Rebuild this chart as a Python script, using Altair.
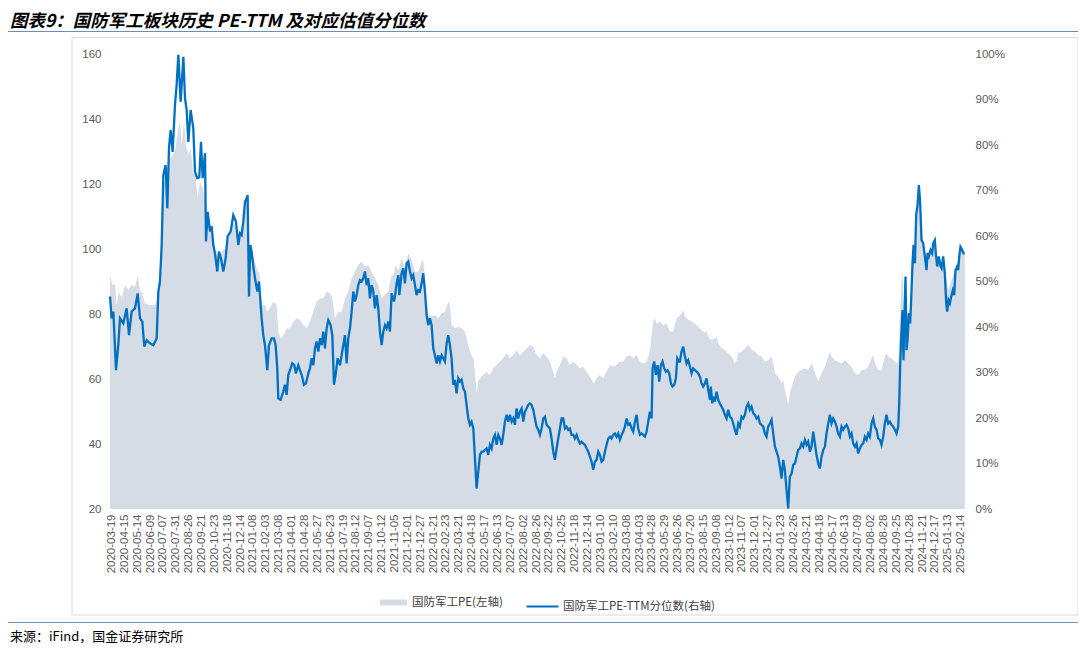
import altair as alt
import pandas as pd

# ---------------- data ----------------
# x = trading-day index since the first data point (labels every 18 trading days)
DATE_LABELS = [
    "2020-03-19", "2020-04-15", "2020-05-14", "2020-06-09", "2020-07-07", "2020-07-31",
    "2020-08-26", "2020-09-21", "2020-10-23", "2020-11-18", "2020-12-14",
    "2021-01-08", "2021-02-03", "2021-03-08", "2021-04-01", "2021-04-28", "2021-05-27",
    "2021-06-23", "2021-07-19", "2021-08-12", "2021-09-07", "2021-10-12", "2021-11-05",
    "2021-12-01", "2021-12-27",
    "2022-01-21", "2022-02-23", "2022-03-21", "2022-04-18", "2022-05-17", "2022-06-13",
    "2022-07-07", "2022-08-02", "2022-08-26", "2022-09-22", "2022-10-25", "2022-11-18",
    "2022-12-14",
    "2023-01-10", "2023-02-10", "2023-03-08", "2023-04-03", "2023-04-28", "2023-05-29",
    "2023-06-26", "2023-07-20", "2023-08-15", "2023-09-08", "2023-10-12", "2023-11-07",
    "2023-12-01", "2023-12-27",
    "2024-01-23", "2024-02-26", "2024-03-21", "2024-04-18", "2024-05-17", "2024-06-13",
    "2024-07-09", "2024-08-02", "2024-08-28", "2024-09-25", "2024-10-28", "2024-11-21",
    "2024-12-17",
    "2025-01-13", "2025-02-14",
]

# 国防军工PE (left axis): (day, PE)
PE_POINTS = [
    (0.0, 92.0), (3.3, 88.9), (7.0, 89.4), (9.3, 82.8), (12.6, 86.9), (16.3, 84.8),
    (21.0, 88.9), (25.6, 87.4), (30.3, 88.9), (35.0, 88.4), (38.7, 92.0), (42.0, 86.9),
    (45.2, 86.4), (48.9, 83.3), (55.9, 82.8), (62.9, 82.8), (66.7, 84.8), (69.0, 91.0),
    (72.3, 103.3), (74.6, 119.7), (77.8, 121.8), (80.6, 118.7), (83.9, 127.9), (88.6, 128.9),
    (92.3, 132.0), (95.6, 137.1), (97.9, 139.2), (100.2, 132.0), (103.5, 139.2), (106.3, 132.0),
    (109.6, 128.9), (112.8, 131.0), (116.5, 123.3), (119.8, 122.8), (122.6, 115.6), (125.9, 120.7),
    (129.6, 118.7), (132.9, 115.6), (135.2, 109.4), (139.9, 108.4), (144.5, 101.2), (149.2, 98.2),
    (152.4, 97.1), (156.2, 99.2), (160.8, 100.2), (165.5, 102.2), (170.2, 108.4), (174.8, 107.4),
    (179.5, 104.3), (184.1, 106.4), (188.8, 113.5), (192.5, 115.6), (194.4, 97.1), (198.1, 99.2),
    (202.8, 96.1), (206.5, 93.0), (208.8, 93.0), (212.1, 82.8), (216.8, 82.8), (220.0, 80.7),
    (223.8, 81.8), (228.4, 83.8), (233.1, 82.8), (235.4, 74.6), (238.7, 72.5), (242.4, 73.5),
    (247.1, 75.6), (251.7, 75.6), (256.4, 77.6), (261.1, 78.7), (265.7, 78.2), (270.4, 76.6),
    (275.1, 75.6), (279.7, 77.6), (284.4, 80.7), (289.0, 83.8), (293.7, 84.8), (298.4, 84.8),
    (303.0, 86.9), (307.7, 86.4), (311.0, 84.8), (314.7, 78.7), (319.3, 80.7), (324.0, 80.7),
    (328.7, 84.8), (333.3, 86.9), (338.0, 91.0), (342.7, 93.0), (347.3, 95.1), (352.0, 96.1),
    (356.6, 94.6), (361.3, 95.1), (366.0, 93.0), (370.6, 91.0), (375.3, 88.9), (380.0, 84.8),
    (384.6, 85.9), (389.3, 86.9), (393.9, 92.0), (397.2, 92.0),
    (398.6, 95.1), (403.3, 93.5), (407.9, 97.1), (412.6, 94.1), (417.2, 98.7), (421.9, 96.6),
    (426.6, 93.0), (431.2, 93.0), (435.9, 96.1), (438.2, 96.6), (440.6, 91.0), (442.9, 83.8),
    (445.2, 79.7), (449.9, 79.2), (454.5, 79.7), (459.2, 78.7), (463.9, 80.2), (468.5, 80.7),
    (473.2, 83.8), (475.5, 82.8), (477.8, 76.6), (482.5, 75.6), (487.2, 76.1), (491.8, 75.6),
    (496.5, 74.6), (498.8, 72.5), (503.5, 68.4), (508.2, 66.4), (510.5, 62.2), (512.8, 55.6),
    (515.1, 59.2), (517.5, 60.2), (522.1, 61.2), (526.8, 62.2), (531.5, 61.2), (536.1, 63.3),
    (540.8, 64.3), (545.4, 65.3), (550.1, 66.4), (554.8, 67.9), (559.4, 66.4), (564.1, 67.4),
    (568.8, 68.9), (573.4, 67.4), (578.1, 68.4), (582.7, 69.4), (587.4, 70.5), (592.1, 69.9),
    (596.7, 67.4), (601.4, 66.4), (606.1, 67.9), (610.7, 66.9), (615.4, 65.3), (620.0, 62.2),
    (622.4, 60.2), (624.7, 62.2), (629.4, 64.3), (634.0, 66.9), (638.7, 66.4), (643.3, 64.3),
    (648.0, 65.3), (652.7, 64.3), (657.3, 63.3), (662.0, 63.8), (666.7, 62.2), (671.3, 60.7),
    (676.0, 58.7), (678.3, 59.2), (680.6, 60.2), (685.3, 61.2), (690.0, 60.2), (694.6, 62.2),
    (699.3, 64.3), (704.0, 63.8), (708.6, 64.3), (713.3, 65.3), (717.9, 65.3), (722.6, 66.9),
    (727.3, 67.4), (731.9, 66.4), (736.6, 67.4), (741.3, 65.3), (745.9, 64.8), (750.6, 65.3),
    (755.2, 68.4), (757.6, 73.5), (759.9, 77.6), (762.2, 78.7), (764.6, 77.1), (769.2, 77.6),
    (773.9, 76.6), (778.6, 77.1), (783.2, 74.6), (787.9, 74.6), (792.5, 78.7), (795.8, 79.2),
    (799.5, 80.2), (801.9, 81.2), (804.2, 79.2), (808.8, 78.2), (813.5, 77.6), (818.2, 77.1),
    (822.8, 76.1), (827.5, 75.1), (832.2, 74.1), (834.5, 75.1), (836.8, 73.0), (841.5, 72.0),
    (846.1, 72.5), (848.5, 73.0), (850.8, 71.0), (855.5, 69.4), (860.1, 68.9), (864.8, 67.9),
    (869.5, 66.9), (874.1, 64.8), (876.4, 65.8), (878.8, 67.9), (883.4, 68.4), (888.1, 69.4),
    (892.8, 70.5), (895.1, 69.9), (897.4, 68.9), (902.1, 68.4), (906.8, 67.4), (911.4, 66.9),
    (916.1, 65.3), (920.7, 65.8), (925.4, 66.9), (927.7, 64.8), (930.1, 61.8), (934.7, 60.7),
    (939.4, 58.7), (941.7, 59.7), (944.0, 56.6), (946.4, 54.6), (948.7, 52.0), (951.0, 55.6),
    (953.4, 57.6), (958.0, 60.7), (962.7, 62.2), (967.4, 62.8), (972.0, 63.3), (976.7, 62.8),
    (981.3, 64.8), (983.7, 63.8), (986.0, 61.8), (988.3, 60.7), (990.7, 59.2), (995.3, 61.8),
    (1000.0, 63.8), (1004.7, 66.9), (1007.0, 68.4), (1009.3, 66.9), (1014.0, 65.8), (1018.7, 65.3),
    (1023.3, 64.8), (1028.0, 65.8), (1032.6, 64.8), (1037.3, 63.8), (1042.0, 61.8), (1046.6, 61.2),
    (1051.3, 62.8), (1055.9, 62.8), (1060.6, 63.8), (1065.3, 66.4), (1067.6, 67.4), (1069.9, 64.8),
    (1074.6, 62.8), (1079.2, 62.8), (1083.9, 66.9), (1086.2, 67.9), (1088.6, 66.9), (1093.2, 66.4),
    (1097.9, 65.3), (1102.6, 64.8), (1104.9, 77.1), (1107.2, 90.5), (1108.6, 93.5), (1110.0, 81.2),
    (1111.9, 91.5), (1114.2, 78.2), (1116.5, 81.2), (1118.9, 79.2), (1121.2, 90.5), (1123.5, 99.7),
    (1125.9, 97.6), (1128.2, 109.9), (1130.5, 114.1), (1132.9, 112.0), (1135.2, 101.8), (1139.8, 98.7),
    (1144.5, 98.7), (1149.2, 99.7), (1153.8, 100.7), (1158.5, 96.6), (1163.2, 95.6), (1165.5, 98.7),
    (1167.8, 93.5), (1170.2, 90.5), (1172.5, 87.4), (1177.1, 90.5), (1181.8, 93.5), (1186.5, 96.6),
    (1191.1, 99.7), (1195.8, 98.7),
]

# 国防军工PE-TTM分位数 (right axis, %): (day, percentile)
PCT_POINTS = [
    (0.0, 46.7), (2.3, 41.9), (4.7, 43.4), (8.4, 30.5), (11.6, 36.0), (14.0, 41.9),
    (18.6, 40.8), (23.3, 44.1), (26.6, 38.2), (30.3, 43.4), (35.0, 44.1), (38.7, 47.4),
    (42.0, 41.9), (45.2, 41.2), (48.0, 35.7), (51.3, 37.1), (55.9, 36.4), (60.6, 36.0),
    (65.3, 37.5), (67.6, 47.8), (69.9, 50.0), (72.3, 58.0), (74.6, 73.4), (77.8, 75.6),
    (80.2, 66.1), (82.5, 79.3), (84.8, 83.3), (87.6, 78.5), (90.9, 88.8), (93.2, 93.2),
    (95.6, 99.8), (98.8, 89.5), (102.6, 99.4), (104.9, 90.3), (107.2, 87.7), (109.6, 80.7),
    (112.8, 87.7), (116.5, 83.7), (118.9, 74.1), (122.1, 72.7), (124.9, 72.9), (127.3, 80.7),
    (129.6, 72.7), (132.9, 78.2), (134.3, 58.8), (136.6, 65.3), (139.9, 61.0), (142.2, 62.1),
    (144.5, 58.0), (146.8, 56.2), (150.1, 52.2), (152.4, 56.6), (155.2, 55.1), (158.5, 52.2),
    (161.8, 55.1), (164.6, 59.9), (168.8, 61.0), (172.5, 64.6), (176.2, 63.2), (179.5, 58.0),
    (181.8, 60.6), (184.1, 60.2), (186.5, 63.2), (188.8, 67.5), (191.1, 68.3), (192.5, 69.0),
    (194.4, 46.7), (196.3, 58.0), (198.1, 56.6), (200.5, 53.3), (202.8, 50.7), (206.1, 47.8),
    (208.4, 50.0), (212.1, 41.9), (214.4, 38.2), (216.8, 36.0), (220.0, 30.5), (222.4, 36.0),
    (226.1, 37.5), (229.4, 37.5), (231.7, 36.0), (234.0, 30.9), (235.4, 24.3), (238.7, 24.0),
    (242.4, 25.8), (244.7, 27.3), (247.1, 25.1), (249.4, 29.5), (252.7, 30.9), (255.0, 32.0),
    (257.8, 31.6), (260.1, 29.8), (263.4, 31.6), (265.7, 30.5), (268.1, 29.5), (271.3, 27.3),
    (274.1, 27.6), (277.4, 29.8), (279.7, 30.9), (282.0, 33.1), (284.4, 31.6), (286.7, 35.3),
    (289.0, 36.8), (291.4, 34.6), (293.7, 37.5), (296.0, 36.0), (298.4, 39.0), (300.7, 35.3),
    (303.0, 39.7), (305.4, 41.5), (308.6, 40.4), (311.0, 38.2), (313.3, 27.3), (315.6, 29.5),
    (318.4, 33.1), (321.7, 31.6), (324.0, 33.8), (326.3, 36.0), (328.7, 38.2), (331.0, 32.0),
    (333.3, 37.5), (335.7, 39.7), (338.0, 43.4), (340.3, 47.8), (342.7, 45.6), (345.0, 47.0),
    (347.3, 49.2), (349.6, 50.3), (352.0, 50.0), (354.3, 50.7), (356.6, 52.2), (359.0, 49.2),
    (361.3, 50.7), (363.6, 46.3), (366.0, 49.2), (368.3, 47.8), (370.6, 44.1), (373.0, 47.0),
    (375.3, 44.1), (377.6, 39.0), (380.0, 36.0), (382.3, 39.0), (384.6, 40.4), (386.9, 39.7),
    (389.3, 41.2), (391.6, 39.0), (393.9, 47.4), (397.2, 45.6),
    (398.6, 46.7), (400.9, 49.6), (403.3, 51.4), (404.7, 47.0), (407.9, 51.8), (410.2, 52.9),
    (412.6, 49.6), (414.9, 54.0), (417.2, 54.4), (419.6, 52.2), (421.9, 50.7), (424.2, 51.4),
    (426.6, 49.2), (428.9, 47.0), (431.2, 48.1), (433.6, 47.8), (435.9, 49.6), (438.2, 51.8),
    (440.6, 47.8), (442.9, 42.6), (445.2, 40.4), (447.5, 41.9), (449.9, 40.4), (452.2, 35.3),
    (454.5, 33.8), (456.9, 32.0), (459.2, 33.8), (461.5, 32.4), (463.9, 33.8), (466.2, 33.1),
    (468.5, 32.4), (470.9, 36.4), (473.2, 38.2), (475.5, 36.0), (477.8, 33.1), (480.2, 27.3),
    (482.5, 28.4), (484.8, 25.4), (487.2, 28.7), (489.5, 28.0), (491.8, 28.4), (494.2, 26.5),
    (496.5, 25.8), (498.8, 22.9), (501.2, 19.9), (503.5, 18.5), (505.8, 19.2), (508.2, 17.7),
    (510.5, 11.1), (512.8, 4.5), (515.1, 8.2), (517.5, 11.9), (519.8, 12.6), (522.1, 12.6),
    (526.8, 13.3), (529.1, 11.9), (531.5, 14.1), (533.8, 13.3), (536.1, 15.5), (538.5, 16.3),
    (540.8, 14.1), (543.1, 16.3), (545.4, 15.5), (547.8, 14.1), (550.1, 16.3), (552.4, 19.2),
    (554.8, 20.7), (557.1, 19.2), (559.4, 20.7), (561.8, 19.2), (564.1, 19.9), (566.4, 18.5),
    (568.8, 22.1), (571.1, 19.9), (573.4, 21.4), (575.8, 22.1), (578.1, 19.2), (580.4, 21.4),
    (582.7, 22.1), (585.1, 22.9), (587.4, 23.2), (589.7, 22.9), (592.1, 21.8), (594.4, 19.9),
    (596.7, 18.1), (599.1, 17.4), (601.4, 16.3), (603.7, 17.7), (606.1, 19.9), (608.4, 20.3),
    (610.7, 18.5), (613.0, 18.1), (615.4, 17.7), (617.7, 15.5), (620.0, 12.6), (622.4, 10.8),
    (624.7, 13.3), (627.0, 15.5), (629.4, 17.7), (631.7, 19.9), (634.0, 19.9), (636.4, 17.7),
    (638.7, 18.1), (641.0, 17.4), (643.3, 17.7), (645.7, 16.3), (648.0, 16.3), (650.3, 15.5),
    (652.7, 16.3), (655.0, 15.2), (657.3, 14.4), (659.7, 14.8), (662.0, 14.4), (664.3, 14.1),
    (666.7, 13.3), (669.0, 12.6), (671.3, 11.5), (673.7, 10.4), (676.0, 8.6), (678.3, 10.4),
    (680.6, 10.8), (683.0, 12.6), (685.3, 11.9), (687.6, 10.4), (690.0, 10.8), (692.3, 12.6),
    (694.6, 14.1), (697.0, 15.5), (699.3, 15.9), (701.6, 15.5), (704.0, 16.3), (706.3, 16.6),
    (708.6, 15.9), (710.9, 16.6), (713.3, 15.2), (715.6, 16.3), (717.9, 17.0), (720.3, 18.1),
    (722.6, 19.9), (724.9, 18.5), (727.3, 18.8), (729.6, 17.7), (731.9, 17.0), (734.3, 19.2),
    (736.6, 20.7), (738.9, 17.7), (741.3, 16.3), (743.6, 16.6), (745.9, 16.3), (748.2, 15.9),
    (750.6, 17.0), (752.9, 19.2), (755.2, 21.4), (757.6, 19.9), (759.0, 30.9), (761.3, 32.4),
    (763.6, 29.5), (766.0, 31.6), (768.3, 28.0), (770.6, 31.6), (772.9, 32.4), (775.3, 30.9),
    (777.6, 30.2), (779.9, 30.5), (782.3, 29.8), (784.6, 27.6), (786.9, 26.9), (789.3, 27.3),
    (791.6, 28.7), (793.5, 33.1), (795.8, 32.4),
    (797.2, 32.4), (799.5, 34.6), (801.9, 35.7), (804.2, 33.5), (806.5, 32.0), (808.8, 32.7),
    (811.2, 31.3), (813.5, 29.8), (815.8, 30.9), (818.2, 30.5), (820.5, 30.2), (822.8, 29.8),
    (825.2, 29.1), (827.5, 27.6), (829.8, 26.9), (832.2, 27.6), (834.5, 28.7), (836.8, 26.2),
    (839.2, 24.0), (840.5, 26.9), (842.4, 23.2), (843.8, 24.7), (846.1, 23.6), (848.5, 25.8),
    (850.8, 24.0), (853.1, 23.2), (855.5, 22.5), (857.8, 21.8), (860.1, 20.7), (862.5, 19.9),
    (864.8, 21.8), (867.1, 20.3), (869.5, 19.9), (871.8, 18.8), (874.1, 17.4), (876.4, 16.3),
    (878.8, 18.8), (881.1, 18.1), (883.4, 20.3), (885.8, 19.9), (888.1, 20.7), (890.4, 22.5),
    (892.8, 23.2), (895.1, 21.8), (897.4, 22.5), (899.8, 21.0), (902.1, 20.7), (904.4, 19.9),
    (906.8, 20.3), (909.1, 18.8), (911.4, 18.5), (913.7, 18.1), (916.1, 16.6), (918.4, 15.9),
    (920.7, 18.1), (923.1, 18.8), (925.4, 19.6), (927.7, 16.6), (930.1, 13.7), (932.4, 12.6),
    (934.7, 11.5), (937.1, 9.3), (939.4, 6.7), (941.7, 10.8), (944.0, 8.6), (946.4, 4.2),
    (948.7, 0.1), (951.0, 7.1), (953.4, 7.8), (955.7, 9.7), (958.0, 10.0), (960.4, 11.5),
    (962.7, 13.0), (965.0, 13.3), (967.4, 14.4), (969.7, 13.7), (972.0, 15.2), (974.4, 14.1),
    (976.7, 14.8), (979.0, 12.6), (981.3, 13.7), (983.7, 17.0), (986.0, 14.4), (988.3, 11.9),
    (990.7, 10.0), (993.0, 8.9), (995.3, 11.5), (997.7, 13.0), (1000.0, 13.7), (1002.3, 16.6),
    (1004.7, 18.8), (1007.0, 20.7), (1009.3, 18.8), (1011.7, 19.9), (1014.0, 19.2), (1016.3, 18.1),
    (1018.7, 16.6), (1021.0, 15.9), (1023.3, 18.1), (1025.6, 17.4), (1028.0, 18.1), (1030.3, 18.5),
    (1032.6, 17.7), (1035.0, 15.9), (1037.3, 16.6), (1039.6, 14.4), (1042.0, 13.7), (1044.3, 14.4),
    (1046.6, 12.2), (1049.0, 13.3), (1051.3, 14.1), (1053.6, 14.4), (1055.9, 15.9), (1058.3, 15.2),
    (1060.6, 16.6), (1062.9, 15.9), (1065.3, 18.8), (1067.6, 19.9), (1069.9, 18.1), (1072.3, 17.4),
    (1074.6, 15.5), (1076.9, 15.2), (1079.2, 14.1), (1081.6, 15.9), (1083.9, 18.8), (1086.2, 20.7),
    (1088.6, 18.8), (1090.9, 19.2), (1093.2, 18.5), (1095.6, 18.1), (1097.9, 17.4), (1100.2, 16.6),
    (1102.6, 18.1), (1104.0, 23.2), (1105.4, 32.0), (1107.2, 39.3), (1108.6, 43.7), (1110.0, 32.7),
    (1111.4, 43.0), (1112.8, 51.1), (1114.2, 34.9), (1115.6, 37.1), (1117.5, 43.0), (1119.3, 40.8),
    (1121.2, 48.1), (1122.6, 54.0), (1124.0, 58.0), (1125.9, 54.0), (1127.7, 64.6), (1129.6, 66.8),
    (1131.5, 71.2), (1133.3, 67.2), (1135.2, 59.1), (1137.5, 58.4), (1139.8, 55.5), (1142.2, 52.5),
    (1143.6, 56.2), (1145.4, 55.5), (1147.8, 56.9), (1150.1, 56.2), (1151.5, 58.4), (1153.8, 59.1),
    (1155.2, 56.2), (1157.1, 53.3), (1159.4, 55.5), (1161.8, 53.3), (1163.2, 52.9), (1165.5, 55.5),
    (1167.8, 51.8), (1169.7, 45.2), (1171.1, 43.4), (1172.9, 45.9), (1174.8, 45.2), (1176.7, 46.7),
    (1179.0, 48.1), (1180.9, 47.0), (1182.7, 52.5), (1185.1, 53.3), (1186.5, 52.5), (1187.9, 55.5),
    (1189.7, 57.6), (1192.1, 56.9), (1193.9, 56.2), (1195.8, 56.2),
]

SERIES_PE = "国防军工PE(左轴)"
SERIES_PCT = "国防军工PE-TTM分位数(右轴)"
TITLE = "图表9：国防军工板块历史 PE-TTM 及对应估值分位数"
SOURCE = "来源：iFind，国金证券研究所"
LEFT_TICKS = [20, 40, 60, 80, 100, 120, 140, 160]
RIGHT_TICKS = [0, 10, 20, 30, 40, 50, 60, 70, 80, 90, 100]

# ---------------- layout ----------------
W, H = 855, 455
PAD = {"left": 102, "top": 46, "right": 113, "bottom": 136}
LABEL_STEP = 18
LABEL_START = 2

pe_df = pd.DataFrame(PE_POINTS, columns=["day", "pe"])
pe_df["s"] = SERIES_PE
pct_df = pd.DataFrame(PCT_POINTS, columns=["day", "pct"])
pct_df["s"] = SERIES_PCT

tick_days = [LABEL_START + LABEL_STEP * k for k in range(len(DATE_LABELS))]
label_arr = "[" + ",".join("'" + d + "'" for d in DATE_LABELS) + "]"
label_expr = f"{label_arr}[round((datum.value-{LABEL_START})/{LABEL_STEP})]"

AX_COLOR = "#595959"
NUM_FONT = "Liberation Sans"
CJK_FONT = "Noto Sans CJK SC"

x_enc = alt.X(
    "day:Q",
    scale=alt.Scale(domain=[0, 1196], nice=False, zero=False),
    axis=alt.Axis(
        values=tick_days, labelExpr=label_expr, labelAngle=270, ticks=False,
        domain=False, grid=False, labelPadding=5, labelFontSize=11.5,
        labelColor=AX_COLOR, labelFont=NUM_FONT, title=None,
        labelOverlap=False, labelFlush=False, labelBound=False,
    ),
)

area = alt.Chart(pe_df).mark_area(opacity=1, interpolate="linear").encode(
    x=x_enc,
    y=alt.Y(
        "pe:Q",
        scale=alt.Scale(domain=[20, 160], nice=False, zero=False),
        axis=alt.Axis(
            orient="left", values=LEFT_TICKS, ticks=False, domain=False, grid=False,
            labelPadding=9, labelFontSize=11.5, labelColor=AX_COLOR,
            labelFont=NUM_FONT, title=None,
        ),
    ),
    y2=alt.datum(20),
    color=alt.Color(
        "s:N",
        scale=alt.Scale(domain=[SERIES_PE], range=["#d6dce5"]),
        legend=alt.Legend(
            orient="none", legendX=270, legendY=535, title=None, padding=0,
            symbolType="M-1,-0.22L1,-0.22L1,0.22L-1,0.22Z", symbolSize=729,
            symbolStrokeWidth=0, labelOffset=5, labelFont=CJK_FONT,
            labelFontSize=11.5, labelColor="#404040",
        ),
    ),
)

line = alt.Chart(pct_df).mark_line(strokeWidth=2.3, interpolate="linear").encode(
    x=x_enc,
    y=alt.Y(
        "pct:Q",
        scale=alt.Scale(domain=[0, 100], nice=False, zero=False),
        axis=alt.Axis(
            orient="right", values=RIGHT_TICKS, labelExpr="datum.value + '%'",
            ticks=False, domain=False, grid=False, labelPadding=10,
            labelFontSize=11.5, labelColor=AX_COLOR, labelFont=NUM_FONT, title=None,
        ),
    ),
    color=alt.Color(
        "s:N",
        scale=alt.Scale(domain=[SERIES_PCT], range=["#0070c0"]),
        legend=alt.Legend(
            orient="none", legendX=415, legendY=535, title=None, padding=0,
            symbolType="stroke", symbolSize=1024, symbolStrokeWidth=2.2,
            labelOffset=3, labelFont=CJK_FONT, labelFontSize=11.5,
            labelColor="#404040",
        ),
    ),
)

one = alt.Data(values=[{"a": 1}])

frame = alt.Chart(one).mark_rect(
    fill="white", fillOpacity=0, stroke="#d9d9d9", strokeWidth=1
).encode(
    x=alt.value(-38), x2=alt.value(968), y=alt.value(-16.5), y2=alt.value(561)
)

title_rule = alt.Chart(one).mark_rule(color="#6d8fb3", strokeWidth=1.2).encode(
    x=alt.value(-110), x2=alt.value(976), y=alt.value(-22.5)
)
source_rule = alt.Chart(one).mark_rule(color="#6d8fb3", strokeWidth=1.2).encode(
    x=alt.value(-110), x2=alt.value(976), y=alt.value(568.5)
)

title_text = alt.Chart(one).mark_text(
    text=TITLE, align="left", baseline="middle", font=CJK_FONT, fontSize=17.5,
    fontWeight="bold", fontStyle="italic", color="#000000",
).encode(x=alt.value(-100), y=alt.value(-32))

source_text = alt.Chart(one).mark_text(
    text=SOURCE, align="left", baseline="middle", font=CJK_FONT, fontSize=13,
    color="#000000",
).encode(x=alt.value(-100), y=alt.value(583))

chart = alt.layer(
    frame, area, line, title_rule, source_rule, title_text, source_text
).resolve_scale(
    y="independent", color="independent"
).properties(
    width=W, height=H,
    autosize=alt.AutoSizeParams(type="none"),
    padding=PAD,
    background="white",
).configure_view(stroke=None)

chart.save("out.html", embed_options={"renderer": "svg", "actions": False})
